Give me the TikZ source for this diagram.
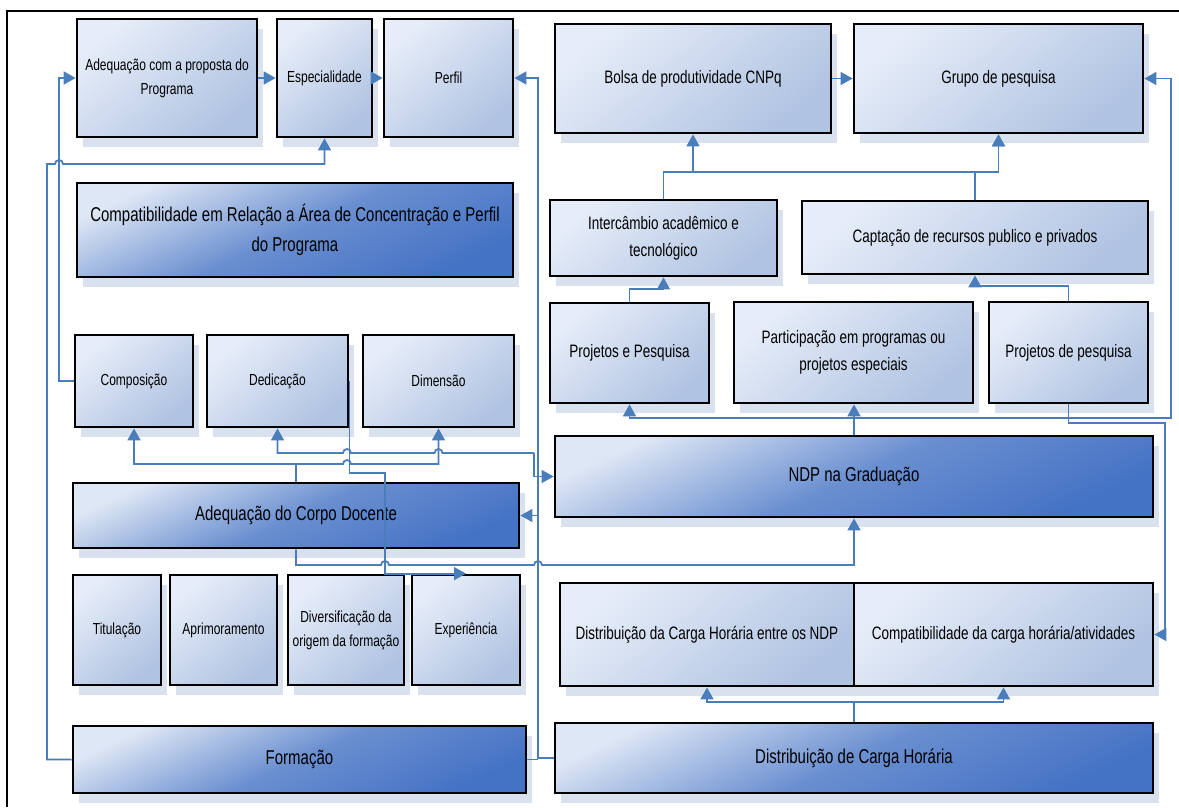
\documentclass[tikz,border=0pt]{standalone}
\usepackage{fontspec}
\setmainfont{Liberation Sans}[FakeStretch=0.75]
\usetikzlibrary{positioning}
\usetikzlibrary{calc}
\usetikzlibrary{shadows}
\usetikzlibrary{arrows.meta}

\definecolor{linkblue}{HTML}{4A7EBB}
\definecolor{boxlight}{HTML}{E6EDF8}
\definecolor{boxmid}{HTML}{B0C3E2}
\definecolor{boxdark}{HTML}{4472C4}
\definecolor{boxhalf}{HTML}{6A8FD0}
\definecolor{shadowgray}{HTML}{DAE1EE}

\tikzset{
  box/.style={draw=black,line width=2.8pt,inner sep=2pt,align=center,text=black,
    drop shadow={shadow xshift=6pt,shadow yshift=-10pt,fill=shadowgray,opacity=1}},
  sub/.style={box,top color=boxlight,bottom color=boxmid,shading angle=40,
    font=\fontsize{16}{24}\selectfont},
  item/.style={sub,font=\fontsize{18}{27}\selectfont},
  main/.style={box,top color=boxlight!85!boxmid,bottom color=boxdark,middle color=boxhalf,
    shading angle=25,font=\fontsize{20}{30}\selectfont},
  link/.style={draw=linkblue,line width=1.8pt,-{Triangle[length=12pt,width=13pt]}},
  bus/.style={draw=linkblue,line width=1.8pt},
}

\begin{document}
\begin{tikzpicture}[x=1pt,y=1pt]
\useasboundingbox (0,0) rectangle (1179,-807);
\draw[line width=2pt] (7,-807) -- (7,-11) -- (1179,-11);

% left column
\node[sub,minimum width=180pt,minimum height=118pt] (adqprop) at (167,-78) {Adequação com a proposta do\\Programa};
\node[sub,minimum width=95pt,minimum height=118pt] (espec) at (324.5,-78) {Especialidade};
\node[sub,minimum width=129pt,minimum height=118pt] (perfil) at (448.5,-78) {Perfil};
\node[main,minimum width=436pt,minimum height=94pt] (compat) at (295,-230) {Compatibilidade em Relação a Área de Concentração e Perfil\\do Programa};
\node[sub,minimum width=118pt,minimum height=92pt] (compos) at (134,-381) {Composição};
\node[sub,minimum width=141pt,minimum height=92pt] (dedic) at (277.5,-381) {Dedicação};
\node[sub,minimum width=151pt,minimum height=92pt] (dimens) at (438.5,-381) {Dimensão};
\node[main,minimum width=446pt,minimum height=65pt] (adqcorpo) at (296,-515.5) {Adequação do Corpo Docente};
\node[sub,minimum width=88pt,minimum height=110pt] (titul) at (117,-630) {Titulação};
\node[sub,minimum width=107pt,minimum height=110pt] (aprim) at (223.5,-630) {Aprimoramento};
\node[sub,minimum width=116pt,minimum height=110pt] (divers) at (346,-630) {Diversificação da\\origem da formação};
\node[sub,minimum width=108pt,minimum height=110pt] (exper) at (466,-630) {Experiência};
\node[main,minimum width=453pt,minimum height=67pt] (formacao) at (299.5,-759.5) {Formação};

% right column
\node[item,minimum width=276pt,minimum height=109pt] (bolsa) at (693,-78.5) {Bolsa de produtividade CNPq};
\node[item,minimum width=289pt,minimum height=109pt] (grupo) at (998.5,-78.5) {Grupo de pesquisa};
\node[item,minimum width=227pt,minimum height=76pt] (interc) at (663.5,-238) {Intercâmbio acadêmico e\\tecnológico};
\node[item,minimum width=346pt,minimum height=73pt] (capt) at (975,-237.5) {Captação de recursos publico e privados};
\node[item,minimum width=159pt,minimum height=100pt] (projep) at (629.5,-353) {Projetos e Pesquisa};
\node[item,minimum width=239pt,minimum height=101pt] (partic) at (853.5,-352.5) {Participação em programas ou\\projetos especiais};
\node[item,minimum width=159pt,minimum height=101pt] (projdp) at (1068.5,-352.5) {Projetos de pesquisa};
\node[main,minimum width=598pt,minimum height=81pt] (ndp) at (854,-476.5) {NDP na Graduação};
\node[item,minimum width=294pt,minimum height=103pt] (distndp) at (707,-634.5) {Distribuição da Carga Horária entre os NDP};
\node[item,minimum width=299pt,minimum height=103pt] (compcarga) at (1003.5,-634.5) {Compatibilidade da carga horária/atividades};
\node[main,minimum width=598pt,minimum height=70pt] (distch) at (854,-758) {Distribuição de Carga Horária};

\coordinate (spine) at (538,0);
\coordinate (turn) at (534,-453);
\coordinate (nbus) at (854,-418);

% top row
\draw[link] (adqprop) -- (espec);
\draw[link] (espec) -- (perfil);
\draw[link] (bolsa) -- (grupo);
%
\draw[link] (compos.west) -| (59,-78) -- (adqprop.west);
\draw[link] (formacao.west) -- (47,-759.5) -- (47,-164) -- (55,-164)
  arc[start angle=180,end angle=0,radius=4] -| (espec.south);
%
\draw[link] (distch.west) -| (spine |- perfil.east) -- (perfil.east);
\draw[bus] (formacao.east) -- (spine |- formacao.east);
\draw[link] (spine |- adqcorpo.east) -- (adqcorpo.east);
\draw[link] (turn) |- (ndp.west);
\draw[link] (turn) -- (442.5,-453) arc[start angle=0,end angle=180,radius=4]
  -- (351,-453) arc[start angle=0,end angle=180,radius=4] -| (dedic.south);
%
\draw[link] (adqcorpo.north) -- (296,-464) -| (compos.south);
\draw[link] (296,-464) -- (343,-464) arc[start angle=180,end angle=0,radius=4] -| (dimens.south);
\draw[link] (dedic.east) |- (385,-473) |- (exper.north);
\draw[link] (adqcorpo.south) -- (296,-565) -- (381,-565) arc[start angle=180,end angle=0,radius=4]
  -- (534,-565) arc[start angle=180,end angle=0,radius=4] -| (ndp.south);
%
\draw[link] (ndp.north) -- (ndp.north |- partic.south);
\draw[link] (ndp.north) -- (nbus) -| (projep.south);
\draw[link] (nbus) -- (1171,-418) |- (grupo.east);
\draw[link] (projdp.south) |- (1165,-423) |- (compcarga.east);
%
\draw[link] (projep.north) -- ++(0,13) -| (interc.south);
\draw[link] (projdp.north) -- ++(0,15) -| (capt.south);
\draw[link] (interc.north) -- ++(0,27) -| (bolsa.south);
\draw[link] (interc.north) -- ++(0,27) -| (grupo.south);
\draw[link] (capt.north) -- ++(0,28) -| (grupo.south);
%
\draw[link] (distch.north) -- ++(0,20) -| (distndp.south);
\draw[link] (distch.north) -- ++(0,20) -| (compcarga.south);
\end{tikzpicture}
\end{document}
